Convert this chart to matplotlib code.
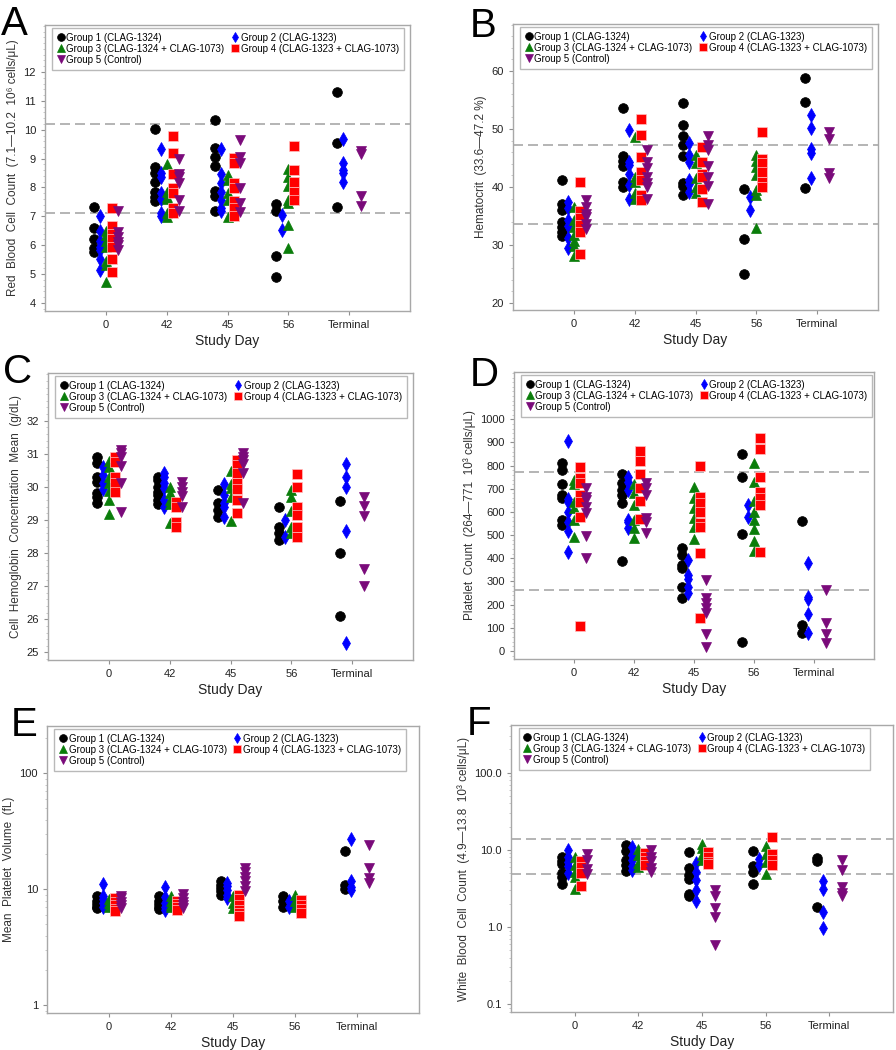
import matplotlib
matplotlib.use('Agg')
import matplotlib.pyplot as plt
import numpy as np

plt.rcParams['font.family'] = ['Liberation Sans', 'DejaVu Sans']

days = ['0', '42', '45', '56', 'Terminal']
group_names = ['Group 1 (CLAG-1324)', 'Group 2 (CLAG-1323)',
               'Group 3 (CLAG-1324 + CLAG-1073)', 'Group 4 (CLAG-1323 + CLAG-1073)',
               'Group 5 (Control)']

# values per study day: 0, 42, 45, 56, Terminal
rbc_g1 = [[7.33, 6.58, 6.22, 5.9, 5.78], [10.02, 8.72, 8.5, 8.18, 7.85, 7.68, 7.52],
          [10.34, 9.36, 9.07, 8.73, 7.88, 7.69, 7.2], [7.43, 7.17, 5.64, 4.9], [11.3, 9.53, 7.31]]
rbc_g2 = [[7.02, 6.48, 6.15, 5.95, 5.85, 5.52, 5.13], [9.34, 8.5, 8.38, 7.82, 7.6, 7.1, 7.0],
          [9.34, 8.47, 8.17, 7.86, 7.57, 7.29, 7.17], [7.05, 6.54], [9.67, 8.84, 8.61, 8.5, 8.2]]
rbc_g3 = [[6.5, 6.35, 6.15, 5.95, 5.45, 5.3, 4.72], [8.8, 7.85, 7.68, 7.6, 7.12, 6.98],
          [8.44, 8.27, 7.8, 7.57, 6.99], [8.63, 8.38, 8.06, 7.57, 7.46, 6.71, 5.9], []]
rbc_g4 = [[7.28, 6.65, 6.4, 6.2, 5.95, 5.52, 5.06], [9.8, 9.18, 8.46, 7.98, 7.8, 7.3, 7.12],
          [9.01, 8.84, 8.15, 7.98, 7.52, 7.29, 7.0], [9.42, 8.59, 8.2, 7.86, 7.57], []]
rbc_g5 = [[7.2, 6.45, 6.3, 6.12, 6.0, 5.85], [9.0, 8.45, 8.35, 8.15, 7.57, 7.17],
          [9.65, 9.07, 8.84, 7.98, 7.46, 7.15], [], [9.28, 9.17, 7.69, 7.37]]

hct_g1 = [[41.2, 37.0, 36.1, 34.0, 33.1, 32.3, 31.5], [53.6, 45.3, 44.5, 43.7, 40.9, 40.0],
          [54.4, 50.7, 48.8, 47.2, 45.3, 40.7, 40.1, 38.6], [39.7, 31.1, 24.95], [58.8, 54.7, 39.9]]
hct_g2 = [[37.4, 36.3, 34.3, 33.2, 31.2, 29.5], [49.9, 44.3, 43.8, 42.3, 40.3, 38.0],
          [47.6, 45.5, 44.3, 41.2, 40.6, 39.2], [38.3, 36.1], [52.4, 50.1, 46.6, 45.8, 41.6]]
hct_g3 = [[36.5, 34.3, 33.1, 31.7, 30.7, 29.8, 28.1], [48.7, 41.8, 40.9, 39.0, 38.0],
          [45.6, 44.2, 41.5, 40.0, 38.9], [45.5, 44.5, 43.5, 42.0, 39.5, 38.6, 32.9], []]
hct_g4 = [[40.8, 35.9, 34.6, 33.5, 32.3, 28.5], [51.8, 49.0, 45.2, 42.6, 41.2, 38.7, 37.7],
          [46.9, 44.3, 42.3, 41.8, 39.6, 37.4], [49.5, 44.9, 44.1, 42.6, 40.9, 40.0], []]
hct_g5 = [[37.8, 36.6, 35.4, 34.8, 33.7, 32.7], [46.4, 44.3, 43.2, 41.8, 40.7, 40.0, 37.9],
          [48.8, 47.2, 46.4, 43.6, 41.8, 40.2, 37.0], [], [49.5, 48.2, 42.4, 41.6]]

mchc_g1 = [[30.91, 30.71, 30.31, 30.16, 29.8, 29.7, 29.5], [30.31, 30.21, 30.01, 29.86, 29.75, 29.6, 29.48],
           [29.9, 29.5, 29.3, 29.1], [29.4, 28.8, 28.6, 28.4], [29.58, 27.99, 26.1]]
mchc_g2 = [[30.61, 30.36, 30.11, 29.94], [30.41, 30.31, 30.11, 29.96, 29.6, 29.4],
           [30.09, 29.75, 29.5, 29.4, 29.1], [29.0, 28.5], [30.69, 30.29, 29.99, 28.68, 25.29]]
mchc_g3 = [[30.79, 30.61, 30.31, 30.11, 29.88, 29.6, 29.18], [30.0, 29.8, 29.6, 29.47, 28.9],
           [30.48, 30.09, 29.96, 29.7, 28.97], [29.9, 29.7, 29.28, 28.8, 28.6], []]
mchc_g4 = [[30.91, 30.76, 30.31, 30.13, 29.85], [29.55, 29.4, 28.95, 28.8],
           [30.81, 30.66, 30.41, 30.11, 29.93, 29.6, 29.2], [30.39, 30.0, 29.4, 29.15, 28.8, 28.5], []]
mchc_g5 = [[31.11, 31.01, 30.91, 30.63, 30.13, 29.24], [30.16, 30.0, 29.86, 29.72, 29.4],
           [31.03, 30.91, 30.81, 30.69, 30.41, 29.52], [], [29.7, 29.42, 29.13, 27.51, 27.0]]

plat_g1 = [[813, 781, 721, 673, 659, 565, 544], [763, 727, 695, 673, 637, 388],
           [446, 414, 371, 357, 278, 227], [849, 750, 504, 40], [560, 111, 76]]
plat_g2 = [[906, 655, 645, 601, 558, 518, 426], [750, 731, 695, 565, 558, 532],
           [393, 328, 309, 278, 252], [630, 580], [378, 232, 223, 160, 76]]
plat_g3 = [[738, 721, 645, 616, 565, 494], [721, 681, 630, 565, 529, 486],
           [709, 659, 616, 573, 537, 483], [810, 731, 647, 601, 565, 525, 475, 432], []]
plat_g4 = [[793, 745, 724, 673, 645, 580, 108], [865, 822, 764, 702, 649, 570],
           [799, 666, 637, 599, 554, 537, 422, 141], [918, 871, 750, 688, 659, 630, 429], []]
plat_g5 = [[702, 666, 652, 623, 594, 496, 400], [727, 702, 673, 576, 558, 511],
           [306, 227, 206, 184, 163, 73, 19], [], [263, 122, 73, 36]]

mpv_g1 = [[8.7, 8.0, 7.5, 7.0, 6.9], [8.8, 8.0, 7.5, 7.0, 6.8], [11.8, 11.0, 10.3, 9.6, 9.0],
          [8.8, 7.9, 7.0], [21.5, 10.8, 10.0]]
mpv_g2 = [[11.2, 8.8, 8.2, 7.6, 7.0], [10.4, 8.6, 7.6, 7.0, 6.7], [11.4, 10.6, 9.8, 9.0, 8.4],
          [8.0, 7.1], [27.0, 11.9, 10.5, 9.8]]
mpv_g3 = [[8.3, 7.6, 7.0], [8.8, 8.0, 7.3, 7.0], [8.8, 7.6, 6.9], [9.0, 8.0, 7.0], []]
mpv_g4 = [[8.4, 7.8, 7.3, 6.8, 6.5], [8.0, 7.5, 7.0, 6.6], [9.0, 8.2, 7.4, 6.7, 6.2, 5.9],
          [8.1, 7.4, 6.8, 6.3], []]
mpv_g5 = [[8.8, 8.4, 7.8, 7.3, 6.9], [9.1, 8.5, 7.8, 7.3, 6.9], [15.2, 14.0, 12.8, 11.8, 10.6, 9.7],
          [], [24.0, 15.2, 12.6, 11.4]]

wbc_g1 = [[8.0, 7.2, 6.5, 5.0, 4.5, 3.6], [11.5, 9.8, 7.4, 6.4, 5.4], [9.5, 5.9, 4.7, 4.2, 2.7, 2.5],
          [9.6, 6.2, 5.2, 3.6], [7.9, 7.1, 1.84]]
wbc_g2 = [[10.1, 8.2, 7.0, 6.2, 5.0], [10.8, 8.6, 7.4, 6.2, 5.5], [6.7, 5.2, 4.1, 3.0, 2.2],
          [7.6, 6.4], [3.9, 3.1, 1.55, 0.96]]
wbc_g3 = [[8.2, 6.4, 5.2, 4.4, 3.1], [10.3, 8.6, 6.8, 6.0], [12.0, 10.5, 8.7, 7.5],
          [11.3, 8.9, 6.9, 4.8], []]
wbc_g4 = [[7.2, 6.0, 5.0, 3.4], [9.2, 8.0, 7.2, 6.3], [9.3, 8.0, 7.0, 6.5], [14.6, 8.9, 7.5, 6.3], []]
wbc_g5 = [[8.9, 7.4, 5.6, 4.9], [10.0, 8.2, 7.1, 5.8, 5.1], [3.0, 2.5, 1.75, 1.35, 0.59],
          [], [7.4, 5.5, 3.3, 2.8, 2.55]]

colors = ['black', '#0000ff', '#0a7d0a', '#ff0000', '#7a0a7a']
markers = ['o', 'd', '^', 's', 'v']
msizes = [7, 7, 6.8, 6.5, 6.8]
offsets = [-0.2, -0.1, 0.0, 0.1, 0.2]

panels = [
    ('A', [45, 25, 410, 311], [rbc_g1, rbc_g2, rbc_g3, rbc_g4, rbc_g5],
     'Red  Blood  Cell  Count  (7.1\u201410.2  10\u2076 cells/\u03bcL)', 'linear',
     (3.72, 13.63), list(range(4, 13)), None, [7.1, 10.2]),
    ('B', [513, 24, 878, 310], [hct_g1, hct_g2, hct_g3, hct_g4, hct_g5],
     'Hematocrit  (33.6\u201447.2 %)', 'linear',
     (18.8, 68.1), [20, 30, 40, 50, 60], None, [33.6, 47.2]),
    ('C', [48, 373, 413, 660], [mchc_g1, mchc_g2, mchc_g3, mchc_g4, mchc_g5],
     'Cell  Hemoglobin  Concentration  Mean  (g/dL)', 'linear',
     (24.77, 33.44), list(range(25, 33)), None, []),
    ('D', [514, 372, 874, 659], [plat_g1, plat_g2, plat_g3, plat_g4, plat_g5],
     'Platelet  Count  (264\u2014771  10\u00b3 cells/\u03bcL)', 'linear',
     (-34.5, 1204), list(range(0, 1001, 100)), None, [264, 771]),
    ('E', [47, 726, 419, 1013], [mpv_g1, mpv_g2, mpv_g3, mpv_g4, mpv_g5],
     'Mean  Platelet  Volume  (fL)', 'log',
     (0.859, 256), [1, 10, 100], ['1', '10', '100'], []),
    ('F', [511, 725, 893, 1012], [wbc_g1, wbc_g2, wbc_g3, wbc_g4, wbc_g5],
     'White  Blood  Cell  Count  (4.9\u201413.8  10\u00b3 cells/\u03bcL)', 'log',
     (0.0794, 415), [0.1, 1, 10, 100], ['0.1', '1.0', '10.0', '100.0'], [4.9, 13.8]),
]

W, H = 896, 1050
fig = plt.figure(figsize=(W / 100, H / 100), dpi=100)
letter_pos = {'A': (1, 5), 'B': (470, 7), 'C': (3, 353), 'D': (470, 356), 'E': (11, 706), 'F': (467, 705)}

for letter, box, groups, ylabel, scale, ylim, yticks, yticklabels, refs in panels:
    l, t, r, b = box
    ax = fig.add_axes([l / W, 1 - b / H, (r - l) / W, (b - t) / H])
    if scale == 'log':
        ax.set_yscale('log')
    for y in refs:
        ax.axhline(y, color='#a8a8a8', lw=1.2, dashes=(6, 3), zorder=1)
    handles = []
    for g, data in enumerate(groups):
        xs, ys = [], []
        for d, vals in enumerate(data):
            xs += [d + 1 + offsets[g]] * len(vals)
            ys += vals
        ec = '#ffc0c0' if g == 3 else colors[g]
        h, = ax.plot(xs, ys, linestyle='none', marker=markers[g], ms=msizes[g],
                     mfc=colors[g], mec=ec, mew=0.5, zorder=3 + g)
        handles.append(h)
    ax.set_xlim(0, 6)
    ax.set_ylim(*ylim)
    ax.set_xticks(range(1, 6))
    ax.set_xticklabels(days, fontsize=8)
    ax.set_yticks(yticks)
    if yticklabels is not None:
        ax.set_yticklabels(yticklabels)
    ax.minorticks_on()
    ax.tick_params(axis='x', which='minor', bottom=False)
    ax.tick_params(axis='both', which='major', labelsize=8, colors='#909090', labelcolor='#222222',
                   length=3, width=0.8)
    ax.tick_params(axis='y', which='minor', length=1.5, width=0.6, colors='#c0c0c0')
    for s in ax.spines.values():
        s.set_color('#a8a8a8')
        s.set_linewidth(1.0)
    ax.set_xlabel('Study Day', fontsize=10, labelpad=3, color='#222222')
    ax.set_ylabel(ylabel, fontsize=8.5, labelpad=3, color='#333333')
    order = [0, 2, 4, 1, 3]
    leg = ax.legend([handles[i] for i in order], [group_names[i] for i in order],
                    loc='upper left', bbox_to_anchor=(0.02, 0.99), ncol=2, fontsize=7,
                    frameon=True, fancybox=False, edgecolor='#a8a8a8', markerscale=0.8,
                    handlelength=0.8, handletextpad=0.15, columnspacing=0.7,
                    labelspacing=0.1, borderpad=0.5, borderaxespad=0)
    leg.get_frame().set_linewidth(1.0)
    lx, ly = letter_pos[letter]
    fig.text(lx / W, 1 - ly / H, letter, fontsize=29, va='top', ha='left')

fig.savefig('out.png', dpi=100)
